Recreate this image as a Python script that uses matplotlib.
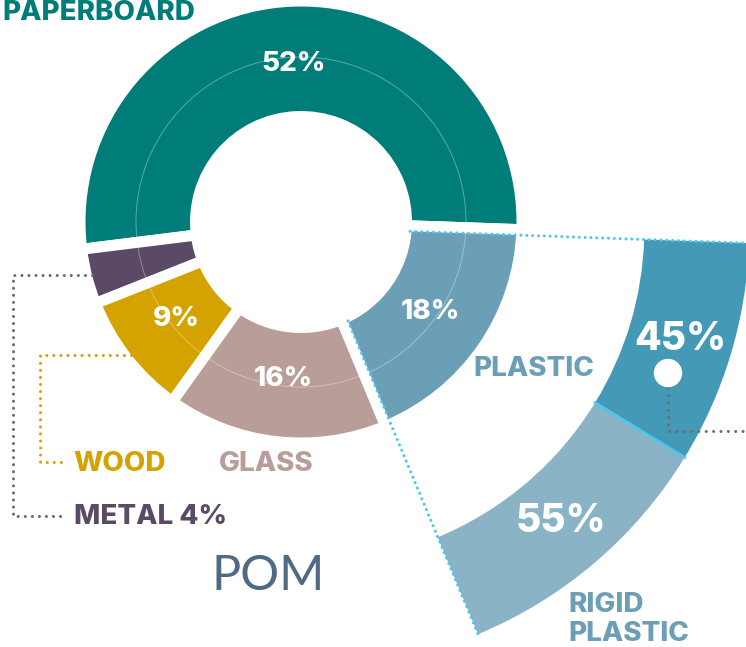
import numpy as np
import matplotlib.pyplot as plt
from matplotlib.patches import Circle

W, H = 746, 647

# packaging material shares (%)
materials = ["PAPERBOARD", "METAL", "WOOD", "GLASS", "PLASTIC"]
shares = [52, 4, 9, 16, 18]
colors = ["#007d79", "#5b4a66", "#d4a300", "#b99d98", "#6a9fb5"]

# breakdown of the plastic slice (%)
plastic_parts = ["OTHER", "RIGID PLASTIC"]
plastic_shares = [45, 55]
plastic_colors = ["#4499b6", "#8ab3c5"]

TEAL, PURPLE, GOLD, ROSE, BLUE = colors
DOT_BLUE = "#4fc6ee"
DOT_GREY = "#6d6a75"
FONT = "Inter"
HEAVY = 800


def px(x, y):
    # image-style coordinates (y down) -> axes data (y up)
    return x, H - y


def polar(c, r, deg):
    a = np.radians(deg)
    return c[0] + r * np.cos(a), c[1] + r * np.sin(a)


fig = plt.figure(figsize=(W / 100, H / 100), dpi=100)
ax = fig.add_axes([0, 0, 1, 1])

hub = px(301, 222)
r_out, r_in = 221, 105.5
gap = 11  # white gap between slices, px

wedges, _ = ax.pie(shares, colors=colors, startangle=-2, radius=r_out, center=hub,
                   wedgeprops=dict(width=r_out - r_in, edgecolor="white",
                                   linewidth=gap * 0.72))

# faint guide ring through the slices
ax.add_patch(Circle(hub, 165, fill=False, ec="white", lw=0.7, alpha=0.35, zorder=3))

# percentages inside the ring
for w, s in zip(wedges, shares):
    if s < 5:
        continue
    mid = (w.theta1 + w.theta2) / 2
    x, y = polar(hub, 158, mid)
    ax.text(x, y, f"{s}%", color="white", fontsize=20, fontweight=HEAVY,
            family=FONT, ha="center", va="center", zorder=4)

# plastic slice pulled out into a larger arc
pw = wedges[4]
half = np.radians((pw.theta2 - pw.theta1) / 2)
sub_c = polar(hub, gap / 2 / np.sin(half), (pw.theta1 + pw.theta2) / 2)
rest = sum(shares) - shares[4]
sub_vals = [s / 100 * shares[4] for s in plastic_shares] + [rest]
R_out, R_w = 440, 105
sub_w, _ = ax.pie(sub_vals, colors=plastic_colors + ["none"], startangle=pw.theta2,
                  counterclock=False, radius=R_out, center=sub_c,
                  wedgeprops=dict(width=R_w, linewidth=0))

split = sub_w[0].theta1
ax.plot(*zip(polar(sub_c, R_out - R_w, split), polar(sub_c, R_out, split)),
        color=DOT_BLUE, lw=2, zorder=3)

for w, s in zip(sub_w[:2], plastic_shares):
    x, y = polar(sub_c, 387, (w.theta1 + w.theta2) / 2)
    ax.text(x, y, f"{s}%", color="white", fontsize=28, fontweight=HEAVY,
            family=FONT, ha="center", va="center", zorder=4)

# dotted edges of the pulled-out slice
r0 = r_in + gap / 2 - gap / 2 / np.sin(half)
for ang, r1 in [(pw.theta2, R_out + 40), (pw.theta1, R_out)]:
    ax.plot(*zip(polar(sub_c, r0, ang), polar(sub_c, r1, ang)), color=DOT_BLUE,
            lw=2.2, ls=(0, (0.01, 1.9)), dash_capstyle="round", zorder=5)

# marker on the 45% arc
dot = px(668, 373)
ax.add_patch(Circle(dot, 13.5, color="white", zorder=5))
ax.plot([dot[0], dot[0], W + 5], [dot[1], H - 431, H - 431], color=DOT_GREY,
        lw=2.2, ls=(0, (0.01, 2.4)), dash_capstyle="round", zorder=2)


# leaders for the two small slices
def leader(w, x_turn, y_end, x_end, color):
    x0, y0 = polar(hub, r_out - gap / 2, (w.theta1 + w.theta2) / 2)
    ax.plot([x0, x_turn, x_turn, x_end], [y0, y0, H - y_end, H - y_end],
            color=color, lw=2.2, ls=(0, (0.01, 2.3)), dash_capstyle="round", zorder=1)


leader(wedges[1], 13, 516, 66, DOT_GREY)
leader(wedges[2], 40, 462, 67, GOLD)

# category labels
lab = dict(fontsize=20, fontweight=HEAVY, family=FONT, va="baseline", ha="left")
ax.text(*px(2, 20), "PAPERBOARD", color=TEAL, **lab)
ax.text(*px(73, 471), "WOOD", color=GOLD, **lab)
ax.text(*px(219, 471), "GLASS", color=ROSE, **lab)
ax.text(*px(74, 524), f"METAL {shares[1]}%", color=PURPLE, **lab)
ax.text(*px(473, 376), "PLASTIC", color=BLUE, **lab)
ax.text(*px(568, 612), "RIGID", color=BLUE, **lab)
ax.text(*px(568, 641), "PLASTIC", color=BLUE, **lab)

ax.text(*px(211, 590), "POM", color="#4f6a82", fontsize=35, family="Lato",
        va="baseline", ha="left")

ax.set_xlim(0, W)
ax.set_ylim(0, H)
ax.set_aspect("equal")
ax.axis("off")
fig.savefig("out.png", dpi=100, facecolor="white")
